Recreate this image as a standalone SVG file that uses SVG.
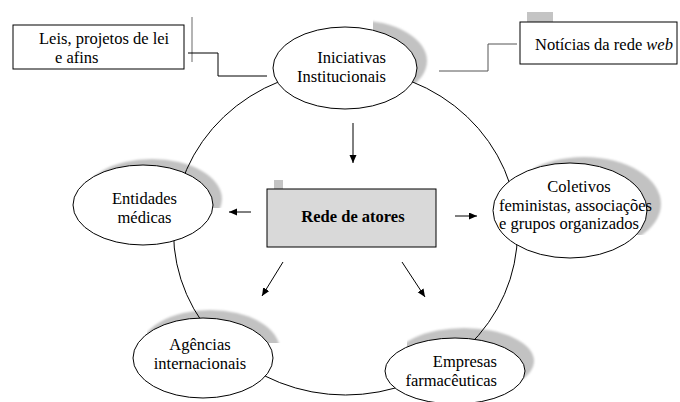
<svg xmlns="http://www.w3.org/2000/svg" width="680" height="402" viewBox="0 0 680 402" font-family="Liberation Serif, Times New Roman, serif" font-size="16.5">
<style>
text{font-family:'Liberation Serif','Times New Roman',serif;font-size:16.5px;fill:#000}
.node{fill:#fff;stroke:#000;stroke-width:1}
.shadow{fill:#c2c2c2;filter:url(#blur)}
.conn{fill:none;stroke:#000;stroke-width:1}
.arrow{fill:none;stroke:#000;stroke-width:1;marker-end:url(#ah)}
.tab{fill:#c4c4c4}
</style>
<defs>
<filter id="blur" x="-10%" y="-10%" width="120%" height="120%"><feGaussianBlur stdDeviation="1"/></filter>
<marker id="ah" markerUnits="userSpaceOnUse" markerWidth="9" markerHeight="8" refX="8" refY="3.5" orient="auto"><path d="M0,0 L8,3.5 L0,7 z" fill="#000"/></marker>
<clipPath id="c1"><rect x="373" y="0" width="80" height="83"/></clipPath>
<clipPath id="c2"><rect x="93" y="140" width="140" height="68"/></clipPath>
<clipPath id="c3"><rect x="533" y="140" width="140" height="95"/></clipPath>
<clipPath id="c4"><rect x="147" y="290" width="140" height="53"/></clipPath>
<clipPath id="c5"><rect x="407" y="310" width="140" height="75"/></clipPath>
</defs>
<rect width="680" height="402" fill="#fff"/>

<g id="shadows">
<ellipse class="shadow" cx="355" cy="61" rx="72" ry="41" clip-path="url(#c1)"/>
<ellipse class="shadow" cx="152" cy="199" rx="70" ry="40" clip-path="url(#c2)"/>
<ellipse class="shadow" cx="584" cy="204" rx="77" ry="47" clip-path="url(#c3)"/>
<ellipse class="shadow" cx="210" cy="350" rx="70" ry="40" clip-path="url(#c4)"/>
<ellipse class="shadow" cx="464" cy="361" rx="70" ry="33" clip-path="url(#c5)"/>
</g>

<g id="connectors">
<ellipse cx="345.5" cy="232" rx="172" ry="163" class="conn"/>
<line x1="192" y1="17" x2="192" y2="62" stroke="#b4b4b4" stroke-width="2"/>
<polyline class="conn" points="188,53 218,53 218,76 267,76"/>
<polyline points="517,44 488,44 488,71 439,71" fill="none" stroke="#555" stroke-width="1"/>
<line class="arrow" x1="353" y1="123" x2="353" y2="163"/>
<line class="arrow" x1="251" y1="212" x2="229" y2="212"/>
<line class="arrow" x1="455" y1="216" x2="477" y2="216"/>
<line class="arrow" x1="283" y1="262" x2="262" y2="296"/>
<line class="arrow" x1="402" y1="262" x2="425" y2="297"/>
</g>

<g id="leis">
<rect x="13" y="25" width="171" height="44" class="node"/>
<text x="39" y="44">Leis, projetos de lei</text>
<text x="55" y="62.5">e afins</text>
</g>

<g id="noticias">
<rect class="tab" x="527" y="12" width="26" height="10"/>
<rect x="520" y="22" width="157" height="42" class="node"/>
<text x="535" y="50">Notícias da rede <tspan font-style="italic">web</tspan></text>
</g>

<g id="iniciativas">
<ellipse cx="345" cy="68" rx="72" ry="41" class="node"/>
<text x="386" y="63" text-anchor="end">Iniciativas</text>
<text x="386" y="82" text-anchor="end">Institucionais</text>
</g>

<g id="rede">
<rect class="tab" x="274" y="180" width="9" height="9"/>
<rect x="267" y="189" width="169" height="58" fill="#d9d9d9" stroke="#000" stroke-width="1"/>
<text x="353" y="222" text-anchor="middle" font-weight="bold">Rede de atores</text>
</g>

<g id="entidades">
<ellipse cx="143" cy="205" rx="70" ry="40" class="node"/>
<text x="144.5" y="204" text-anchor="middle">Entidades</text>
<text x="144.5" y="222.5" text-anchor="middle">médicas</text>
</g>

<g id="coletivos">
<ellipse cx="570" cy="210.5" rx="77" ry="47.5" class="node"/>
<text x="579" y="192" text-anchor="middle">Coletivos</text>
<text x="499" y="210.5">feministas, associações</text>
<text x="499" y="229">e grupos organizados</text>
</g>

<g id="agencias">
<ellipse cx="203" cy="358" rx="70" ry="40" class="node"/>
<text x="200" y="350" text-anchor="middle">Agências</text>
<text x="200" y="369" text-anchor="middle">internacionais</text>
</g>

<g id="empresas">
<ellipse cx="455" cy="371" rx="70" ry="33" class="node"/>
<text x="497" y="367" text-anchor="end">Empresas</text>
<text x="497" y="385.5" text-anchor="end">farmacêuticas</text>
</g>
</svg>
